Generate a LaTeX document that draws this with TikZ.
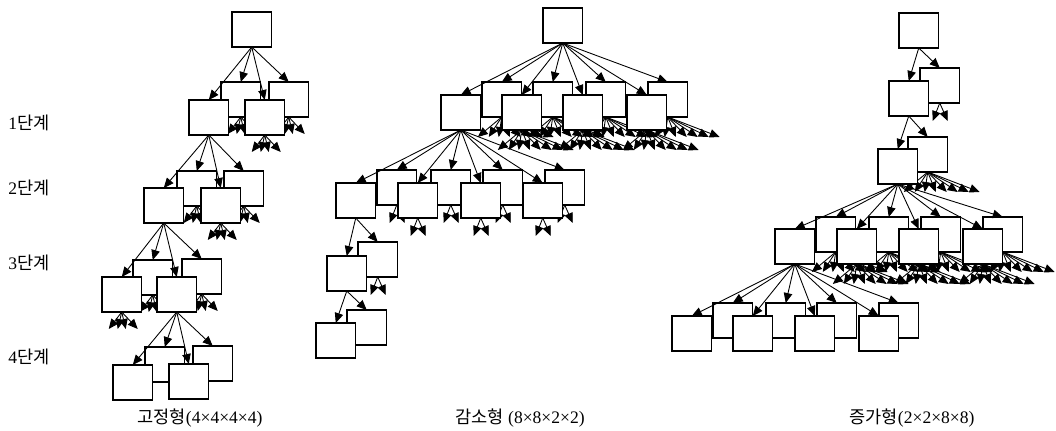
\documentclass[tikz,border=0pt]{standalone}
\usepackage{fontspec}
\setmainfont{Liberation Serif}
\newfontfamily\kr{Noto Sans CJK KR}
\usetikzlibrary{arrows.meta,calc}

% short arrows fanning out below a node: node, drop, horizontal offsets
\newcommand\fanarrows[3]{%
  \foreach \dx [count=\i] in {#3} {
    \coordinate (#1-t\i) at ($(#1.south)+(\dx,#2)$);
    \draw[arr] (#1.south) -- (#1-t\i);
  }}
\newcommand\fanfour[1]{\fanarrows{#1}{17}{-13,-4,4,16}}
\newcommand\faneight[1]{\fanarrows{#1}{20}{-24,-13,-3,8,19,30,41,52}}
\newcommand\fantwo[1]{\fanarrows{#1}{18}{-7,8}}

\begin{document}
\begin{tikzpicture}[x=0.02cm,y=-0.02cm,
  bx/.style={draw, fill=white, line width=0.6pt, minimum width=0.79cm,
    minimum height=0.70cm, inner sep=0pt, outer sep=0pt, anchor=north west},
  arr/.style={-{Triangle[length=0.2cm,width=0.17cm]}, line width=0.5pt},
  lbl/.style={font=\fontsize{10}{12}\selectfont, inner sep=0pt}]
\useasboundingbox (0,0) rectangle (1056,430);

% ---------- 고정형 (4x4x4x4) ----------
\node[bx] (a0) at (232,12) {};
\node[bx] (a1b1) at (221,82) {};  \fanfour{a1b1}
\node[bx] (a1b2) at (269,82) {};  \fanfour{a1b2}
\node[bx] (a1f1) at (189,100) {};
\node[bx] (a1f2) at (245,100) {}; \fanfour{a1f2}
\foreach \c in {a1b1,a1b2,a1f1,a1f2} \draw[arr] (a0.south) -- (\c.north);

\node[bx] (a2b1) at (177,171) {}; \fanfour{a2b1}
\node[bx] (a2b2) at (224,171) {}; \fanfour{a2b2}
\node[bx] (a2f1) at (144,188) {};
\node[bx] (a2f2) at (201,188) {}; \fanfour{a2f2}
\foreach \c in {a2b1,a2b2,a2f1,a2f2} \draw[arr] (a1f1.south) -- (\c.north);

\node[bx] (a3b1) at (133,260) {}; \fanfour{a3b1}
\node[bx] (a3b2) at (182,259) {}; \fanfour{a3b2}
\node[bx] (a3f1) at (102,277) {}; \fanfour{a3f1}
\node[bx] (a3f2) at (157,277) {};
\foreach \c in {a3b1,a3b2,a3f1,a3f2} \draw[arr] (a2f1.south) -- (\c.north);

\node[bx] (a4b1) at (145,347) {};
\node[bx] (a4b2) at (193,346) {};
\node[bx] (a4f1) at (113,365) {};
\node[bx] (a4f2) at (169,364) {};
\foreach \c in {a4b1,a4b2,a4f1,a4f2} \draw[arr] (a3f2.south) -- (\c.north);

% ---------- 감소형 (8x8x2x2) ----------
\node[bx] (b0) at (543,8) {};
\node[bx] (b1b1) at (482,82) {}; \faneight{b1b1}
\node[bx] (b1b2) at (533,82) {}; \faneight{b1b2}
\node[bx] (b1b3) at (586,82) {}; \faneight{b1b3}
\node[bx] (b1b4) at (648,82) {}; \faneight{b1b4}
\node[bx] (b1f1) at (441,95) {};
\node[bx] (b1f2) at (502,95) {}; \faneight{b1f2}
\node[bx] (b1f3) at (563,95) {}; \faneight{b1f3}
\node[bx] (b1f4) at (627,95) {}; \faneight{b1f4}
\foreach \c in {b1b1,b1b2,b1b3,b1b4,b1f1,b1f2,b1f3,b1f4}
  \draw[arr] (b0.south) -- (\c.north);

\node[bx] (b2b1) at (377,170) {}; \fantwo{b2b1}
\node[bx] (b2b2) at (431,170) {}; \fantwo{b2b2}
\node[bx] (b2b3) at (483,170) {}; \fantwo{b2b3}
\node[bx] (b2b4) at (545,170) {}; \fantwo{b2b4}
\node[bx] (b2f1) at (336,183) {};
\node[bx] (b2f2) at (398,183) {}; \fantwo{b2f2}
\node[bx] (b2f3) at (461,183) {}; \fantwo{b2f3}
\node[bx] (b2f4) at (523,183) {}; \fantwo{b2f4}
\foreach \c in {b2b1,b2b2,b2b3,b2b4,b2f1,b2f2,b2f3,b2f4}
  \draw[arr] (b1f1.south) -- (\c.north);

\node[bx] (b3b1) at (358,242) {}; \fantwo{b3b1}
\node[bx] (b3f1) at (327,256) {};
\foreach \c in {b3b1,b3f1} \draw[arr] (b2f1.south) -- (\c.north);

\node[bx] (b4b1) at (347,310) {};
\node[bx] (b4f1) at (316,323) {};
\foreach \c in {b4b1,b4f1} \draw[arr] (b3f1.south) -- (\c.north);

% ---------- 증가형 (2x2x8x8) ----------
\node[bx] (c0) at (899,13) {};
\node[bx] (c1b1) at (920,68) {}; \fantwo{c1b1}
\node[bx] (c1f1) at (889,81) {};
\foreach \c in {c1b1,c1f1} \draw[arr] (c0.south) -- (\c.north);

\node[bx] (c2b1) at (908,137) {}; \faneight{c2b1}
\node[bx] (c2f1) at (878,149) {};
\foreach \c in {c2b1,c2f1} \draw[arr] (c1f1.south) -- (\c.north);

\node[bx] (c3b1) at (816,217) {}; \faneight{c3b1}
\node[bx] (c3b2) at (869,217) {}; \faneight{c3b2}
\node[bx] (c3b3) at (921,217) {}; \faneight{c3b3}
\node[bx] (c3b4) at (983,217) {}; \faneight{c3b4}
\node[bx] (c3f1) at (775,229) {};
\node[bx] (c3f2) at (837,229) {}; \faneight{c3f2}
\node[bx] (c3f3) at (899,229) {}; \faneight{c3f3}
\node[bx] (c3f4) at (963,229) {}; \faneight{c3f4}
\foreach \c in {c3b1,c3b2,c3b3,c3b4,c3f1,c3f2,c3f3,c3f4}
  \draw[arr] (c2f1.south) -- (\c.north);

\node[bx] (c4b1) at (713,303) {};
\node[bx] (c4b2) at (766,303) {};
\node[bx] (c4b3) at (817,303) {};
\node[bx] (c4b4) at (879,303) {};
\node[bx] (c4f1) at (672,316) {};
\node[bx] (c4f2) at (733,316) {};
\node[bx] (c4f3) at (795,316) {};
\node[bx] (c4f4) at (859,316) {};
\foreach \c in {c4b1,c4b2,c4b3,c4b4,c4f1,c4f2,c4f3,c4f4}
  \draw[arr] (c3f1.south) -- (\c.north);

% ---------- level labels and captions ----------
\node[lbl, anchor=west] (s1) at (8,123) {1{\kr 단계}};
\node[lbl, anchor=west] (s2) at (8,188) {2{\kr 단계}};
\node[lbl, anchor=west] (s3) at (8,263) {3{\kr 단계}};
\node[lbl, anchor=west] (s4) at (8,357) {4{\kr 단계}};

\node[lbl] (n1) at (200,418) {{\kr 고정형}(4×4×4×4)};
\node[lbl] (n2) at (520,418) {{\kr 감소형} (8×8×2×2)};
\node[lbl] (n3) at (912,418) {{\kr 증가형}(2×2×8×8)};
\end{tikzpicture}
\end{document}
